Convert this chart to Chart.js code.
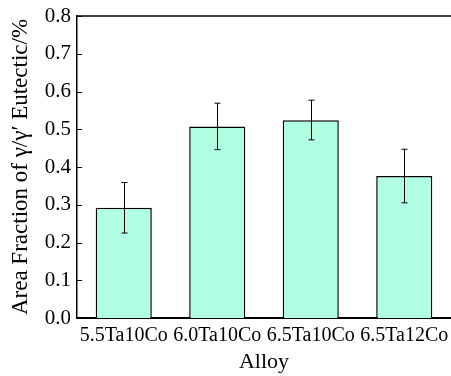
<!DOCTYPE html>
<html>
<head>
<meta charset="utf-8">
<script src="https://cdn.jsdelivr.net/npm/chart.js@4/dist/chart.umd.min.js"></script>
<style>
  html, body { margin: 0; padding: 0; background: #fff; }
  #wrap { width: 451px; height: 376px; }
</style>
</head>
<body>
<div id="wrap"><canvas id="chart"></canvas></div>
<script>
"use strict";

// values
const alloys = ["5.5Ta10Co", "6.0Ta10Co", "6.5Ta10Co", "6.5Ta12Co"];
const areaFraction = [0.292, 0.507, 0.524, 0.376];
const errLow = [0.225, 0.446, 0.472, 0.305];
const errHigh = [0.359, 0.569, 0.577, 0.447];
const yTicks = [0.0, 0.1, 0.2, 0.3, 0.4, 0.5, 0.6, 0.7, 0.8];

const serif = "'Liberation Serif', 'Times New Roman', serif";

// error bars, inward y ticks and the top frame line
const extras = {
    id: "extras",
    afterDatasetsDraw(chart) {
        const ctx = chart.ctx;
        const x = chart.scales.x, y = chart.scales.y;
        const area = chart.chartArea;
        ctx.save();
        ctx.strokeStyle = "#000";
        ctx.lineWidth = 1;
        errLow.forEach((lo, i) => {
            const px = Math.round(x.getPixelForValue(i)) + 0.5;
            const y1 = y.getPixelForValue(lo);
            const y2 = y.getPixelForValue(errHigh[i]);
            ctx.beginPath();
            ctx.moveTo(px, y1); ctx.lineTo(px, y2);
            ctx.moveTo(px - 3, y1); ctx.lineTo(px + 3, y1);
            ctx.moveTo(px - 3, y2); ctx.lineTo(px + 3, y2);
            ctx.stroke();
        });
        yTicks.forEach(v => {
            const py = Math.round(y.getPixelForValue(v)) + 0.5;
            ctx.beginPath();
            ctx.moveTo(area.left, py); ctx.lineTo(area.left + 5, py);
            ctx.stroke();
        });
        ctx.lineWidth = 1.5;
        ctx.beginPath();
        ctx.moveTo(area.left, area.top); ctx.lineTo(area.right, area.top);
        ctx.stroke();
        ctx.restore();
    }
};

new Chart(document.getElementById("chart"), {
    type: "bar",
    data: {
        labels: alloys,
        datasets: [{
            data: areaFraction,
            backgroundColor: "#b0ffe2",
            borderColor: "#000",
            borderWidth: 1.5,
            categoryPercentage: 1.0,
            barPercentage: 0.6
        }]
    },
    options: {
        responsive: true,
        maintainAspectRatio: false,
        animation: false,
        layout: { padding: { top: 16, right: 0, left: 0, bottom: 0 } },
        plugins: {
            legend: { display: false },
            tooltip: { enabled: false }
        },
        scales: {
            x: {
                grid: { display: false, drawTicks: false },
                border: { color: "#000", width: 2 },
                ticks: {
                    color: "#000",
                    padding: 6,
                    maxRotation: 0,
                    autoSkip: false,
                    font: { family: serif, size: 20 }
                },
                title: {
                    display: true,
                    text: "Alloy",
                    color: "#000",
                    padding: { top: 0, bottom: 1 },
                    font: { family: serif, size: 22 }
                },
                afterFit(scale) {
                    scale.height = 58;
                    scale.paddingLeft = 0;
                    scale.paddingRight = 0;
                }
            },
            y: {
                min: 0,
                max: 0.8,
                grid: { display: false, drawTicks: false },
                border: { color: "#000", width: 1.5 },
                afterBuildTicks(scale) {
                    scale.ticks = yTicks.map(v => ({ value: v }));
                },
                ticks: {
                    color: "#000",
                    padding: 6,
                    font: { family: serif, size: 21 },
                    callback: v => Number(v).toFixed(1)
                },
                title: {
                    display: true,
                    text: "Area Fraction of γ/γ′ Eutectic/%",
                    color: "#000",
                    padding: { top: 7, bottom: 0 },
                    font: { family: serif, size: 23 }
                },
                afterFit(scale) {
                    scale.width = 77;
                    scale.paddingTop = 0;
                    scale.paddingBottom = 0;
                }
            }
        }
    },
    plugins: [extras]
});
</script>
</body>
</html>
